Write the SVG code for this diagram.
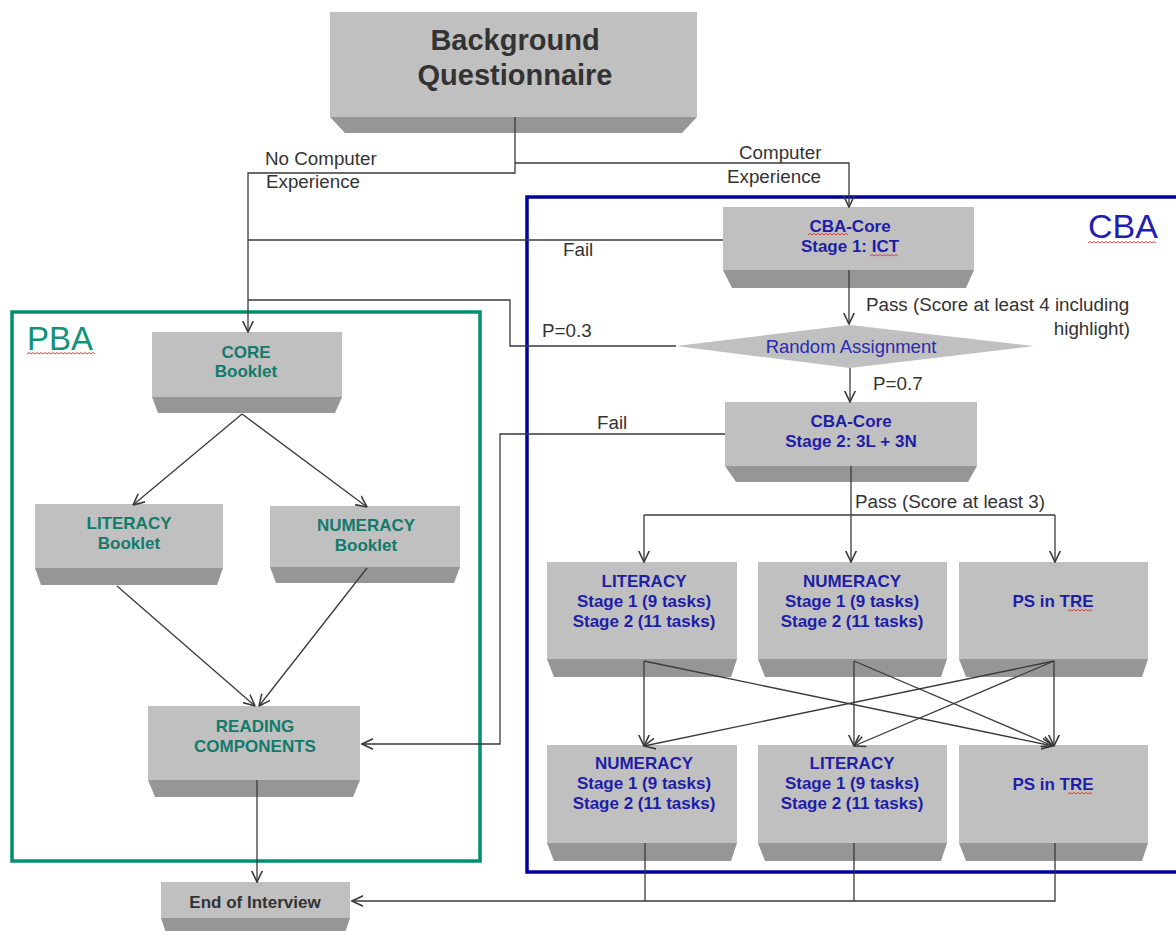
<svg xmlns="http://www.w3.org/2000/svg" width="1176" height="931" viewBox="0 0 1176 931">
<defs>
<marker id="arr" markerUnits="userSpaceOnUse" markerWidth="12" markerHeight="12" viewBox="0 0 10 10" refX="9.5" refY="5" orient="auto">
<path d="M0,0.5 L9.5,5 L0,9.5" fill="none" stroke="#3a3a3a" stroke-width="1.3"/>
</marker>
</defs>
<style>
.lt{fill:#c0c0c0}
.dk{fill:#969696}
.con{fill:none;stroke:#3a3a3a;stroke-width:1.3}
.b{font-family:"Liberation Sans",Arial,sans-serif;font-weight:bold;font-size:17px;text-anchor:middle}
.big{font-size:29px}
.blue{fill:#1e1ea6}
.teal{fill:#137a6c}
.gray{fill:#333333}
.lbl{font-family:"Liberation Sans",Arial,sans-serif;font-size:18.8px;fill:#333333}
.sq{fill:none;stroke:#e03030;stroke-width:0.9}
</style>
<rect width="1176" height="931" fill="#ffffff"/>
<g id="containers">
<rect id="PBA" x="12" y="312" width="468" height="549" fill="none" stroke="#00906e" stroke-width="3.5"/>
<rect id="CBA" x="527" y="197" width="660" height="675" fill="none" stroke="#0000a0" stroke-width="3.5"/>
<text x="27" y="350" font-family="Liberation Sans,Arial,sans-serif" font-size="33" fill="#13917a">PBA</text>
<text x="1088" y="238" font-family="Liberation Sans,Arial,sans-serif" font-size="34" fill="#2020b0">CBA</text>
</g>
<g id="bq">
<rect class="lt" x="330" y="12" width="367" height="105"/>
<polygon class="dk" points="330,117 697,117 682,133 345,133"/>
<text class="b big gray" x="515" y="50">Background</text>
<text class="b big gray" x="515" y="85">Questionnaire</text>
</g>
<g id="cba1">
<rect class="lt" x="723" y="207" width="251" height="63"/>
<polygon class="dk" points="723,270 974,270 966,288 732,288"/>
<text class="b blue" x="850" y="232">CBA-Core</text>
<text class="b blue" x="850" y="252">Stage 1: ICT</text>
</g>
<g id="random">
<polygon points="676,346 850,325 1034,346 850,368" fill="#c0c0c0"/>
<text x="851" y="353" font-family="Liberation Sans,Arial,sans-serif" font-size="18.5" fill="#2b2bb0" text-anchor="middle">Random Assignment</text>
</g>
<g id="cba2">
<rect class="lt" x="725" y="402" width="252" height="64"/>
<polygon class="dk" points="725,466 977,466 968,482 736,482"/>
<text class="b blue" x="851" y="427">CBA-Core</text>
<text class="b blue" x="851" y="447">Stage 2: 3L + 3N</text>
</g>
<g id="lit1">
<rect class="lt" x="547" y="562" width="190" height="97"/>
<polygon class="dk" points="547,659 737,659 731,677 554,677"/>
<text class="b blue" x="644" y="587">LITERACY</text>
<text class="b blue" x="644" y="607">Stage 1 (9 tasks)</text>
<text class="b blue" x="644" y="627">Stage 2 (11 tasks)</text>
</g>
<g id="num1">
<rect class="lt" x="758" y="562" width="189" height="97"/>
<polygon class="dk" points="758,659 947,659 941,677 765,677"/>
<text class="b blue" x="852" y="587">NUMERACY</text>
<text class="b blue" x="852" y="607">Stage 1 (9 tasks)</text>
<text class="b blue" x="852" y="627">Stage 2 (11 tasks)</text>
</g>
<g id="ps1">
<rect class="lt" x="959" y="562" width="189" height="97"/>
<polygon class="dk" points="959,659 1148,659 1142,677 966,677"/>
<text class="b blue" x="1053" y="607">PS in TRE</text>
</g>
<g id="num2">
<rect class="lt" x="547" y="745" width="190" height="98"/>
<polygon class="dk" points="547,843 737,843 731,861 554,861"/>
<text class="b blue" x="644" y="769">NUMERACY</text>
<text class="b blue" x="644" y="789">Stage 1 (9 tasks)</text>
<text class="b blue" x="644" y="809">Stage 2 (11 tasks)</text>
</g>
<g id="lit2">
<rect class="lt" x="758" y="745" width="189" height="98"/>
<polygon class="dk" points="758,843 947,843 941,861 765,861"/>
<text class="b blue" x="852" y="769">LITERACY</text>
<text class="b blue" x="852" y="789">Stage 1 (9 tasks)</text>
<text class="b blue" x="852" y="809">Stage 2 (11 tasks)</text>
</g>
<g id="ps2">
<rect class="lt" x="959" y="745" width="189" height="98"/>
<polygon class="dk" points="959,843 1148,843 1142,861 966,861"/>
<text class="b blue" x="1053" y="790">PS in TRE</text>
</g>
<g id="core">
<rect class="lt" x="152" y="332" width="190" height="65"/>
<polygon class="dk" points="152,397 342,397 335,413 158,413"/>
<text class="b teal" x="246" y="358">CORE</text>
<text class="b teal" x="246" y="377">Booklet</text>
</g>
<g id="litb">
<rect class="lt" x="35" y="504" width="188" height="64"/>
<polygon class="dk" points="35,568 223,568 217,585 41,585"/>
<text class="b teal" x="129" y="529">LITERACY</text>
<text class="b teal" x="129" y="549">Booklet</text>
</g>
<g id="numb">
<rect class="lt" x="270" y="506" width="190" height="61"/>
<polygon class="dk" points="270,567 460,567 454,583 276,583"/>
<text class="b teal" x="366" y="531">NUMERACY</text>
<text class="b teal" x="366" y="551">Booklet</text>
</g>
<g id="reading">
<rect class="lt" x="148" y="706" width="212" height="74"/>
<polygon class="dk" points="148,780 360,780 353,797 155,797"/>
<text class="b teal" x="255" y="732">READING</text>
<text class="b teal" x="255" y="752">COMPONENTS</text>
</g>
<g id="end">
<rect class="lt" x="161" y="882" width="189" height="36"/>
<polygon class="dk" points="161,918 350,918 344,936 167,936"/>
<text class="b gray" x="255" y="908">End of Interview</text>
</g>
<g id="connectors">
<path class="con" d="M515,117 V173 H248 V332" marker-end="url(#arr)"/>
<path class="con" d="M515,163 H849 V207" marker-end="url(#arr)"/>
<path class="con" d="M723,240 H248"/>
<path class="con" d="M676,346 H510 V300 H248"/>
<path class="con" d="M849,270 V324" marker-end="url(#arr)"/>
<path class="con" d="M850,368 V402" marker-end="url(#arr)"/>
<path class="con" d="M725,434 H500 V744 H362" marker-end="url(#arr)"/>
<path class="con" d="M851,466 V515 M644,515 H1055"/>
<path class="con" d="M644,515 V562" marker-end="url(#arr)"/>
<path class="con" d="M851,515 V562" marker-end="url(#arr)"/>
<path class="con" d="M1055,515 V562" marker-end="url(#arr)"/>
<path class="con" d="M644,661 V746" marker-end="url(#arr)"/>
<path class="con" d="M644,661 L1053,746" marker-end="url(#arr)"/>
<path class="con" d="M854,661 V746" marker-end="url(#arr)"/>
<path class="con" d="M854,661 L1053,746" marker-end="url(#arr)"/>
<path class="con" d="M1054,661 V746" marker-end="url(#arr)"/>
<path class="con" d="M1054,661 L644,746" marker-end="url(#arr)"/>
<path class="con" d="M1054,661 L854,746" marker-end="url(#arr)"/>
<path class="con" d="M242,414 L133,505" marker-end="url(#arr)"/>
<path class="con" d="M242,414 L367,507" marker-end="url(#arr)"/>
<path class="con" d="M117,586 L255,706" marker-end="url(#arr)"/>
<path class="con" d="M367,568 L259,706" marker-end="url(#arr)"/>
<path class="con" d="M257,780 V882" marker-end="url(#arr)"/>
<path class="con" d="M645,843 V901 M854,843 V901"/>
<path class="con" d="M1055,843 V901 H352" marker-end="url(#arr)"/>
</g>
<g id="labels">
<text class="lbl" x="265" y="165">No Computer</text>
<text class="lbl" x="266" y="188">Experience</text>
<text class="lbl" x="739" y="159">Computer</text>
<text class="lbl" x="727" y="183">Experience</text>
<text class="lbl" x="563" y="256">Fail</text>
<text class="lbl" x="866" y="311">Pass (Score at least 4 including</text>
<text class="lbl" x="1130" y="335" text-anchor="end">highlight)</text>
<text class="lbl" x="542" y="337">P=0.3</text>
<text class="lbl" x="873" y="390">P=0.7</text>
<text class="lbl" x="597" y="429">Fail</text>
<text class="lbl" x="855" y="508">Pass (Score at least 3)</text>
</g>
<g id="spellmarks">
<path class="sq" d="M27,354 l2,-1.5 l2,1.5 l2,-1.5 l2,1.5 l2,-1.5 l2,1.5 l2,-1.5 l2,1.5 l2,-1.5 l2,1.5 l2,-1.5 l2,1.5 l2,-1.5 l2,1.5 l2,-1.5 l2,1.5 l2,-1.5 l2,1.5 l2,-1.5 l2,1.5 l2,-1.5 l2,1.5 l2,-1.5 l2,1.5 l2,-1.5 l2,1.5 l2,-1.5 l2,1.5 l2,-1.5 l2,1.5 l2,-1.5 l2,1.5 l2,-1.5 l2,1.5"/>
<path class="sq" d="M1088,243 l2,-1.5 l2,1.5 l2,-1.5 l2,1.5 l2,-1.5 l2,1.5 l2,-1.5 l2,1.5 l2,-1.5 l2,1.5 l2,-1.5 l2,1.5 l2,-1.5 l2,1.5 l2,-1.5 l2,1.5 l2,-1.5 l2,1.5 l2,-1.5 l2,1.5 l2,-1.5 l2,1.5 l2,-1.5 l2,1.5 l2,-1.5 l2,1.5 l2,-1.5 l2,1.5 l2,-1.5 l2,1.5 l2,-1.5 l2,1.5 l2,-1.5 l2,1.5"/>
<path class="sq" d="M808,235 l2,-1.5 l2,1.5 l2,-1.5 l2,1.5 l2,-1.5 l2,1.5 l2,-1.5 l2,1.5 l2,-1.5 l2,1.5 l2,-1.5 l2,1.5 l2,-1.5 l2,1.5 l2,-1.5 l2,1.5 l2,-1.5 l2,1.5 l2,-1.5 l2,1.5"/>
<path class="sq" d="M870,256 l2,-1.5 l2,1.5 l2,-1.5 l2,1.5 l2,-1.5 l2,1.5 l2,-1.5 l2,1.5 l2,-1.5 l2,1.5 l2,-1.5 l2,1.5 l2,-1.5 l2,1.5"/>
<path class="sq" d="M1068,611 l2,-1.5 l2,1.5 l2,-1.5 l2,1.5 l2,-1.5 l2,1.5 l2,-1.5 l2,1.5 l2,-1.5 l2,1.5 l2,-1.5 l2,1.5"/>
<path class="sq" d="M1068,794 l2,-1.5 l2,1.5 l2,-1.5 l2,1.5 l2,-1.5 l2,1.5 l2,-1.5 l2,1.5 l2,-1.5 l2,1.5 l2,-1.5 l2,1.5"/>
</g>
</svg>
